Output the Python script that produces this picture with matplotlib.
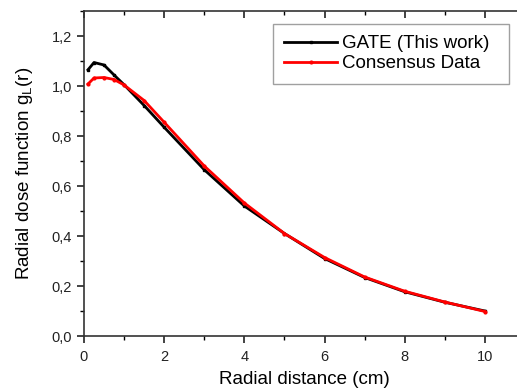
import matplotlib
matplotlib.use("Agg")
import matplotlib.pyplot as plt
from matplotlib.ticker import MultipleLocator, FuncFormatter

# radial distance (cm)
r_gate = [0.1, 0.25, 0.5, 0.75, 1.0, 1.5, 2.0, 3.0, 4.0, 5.0, 6.0, 7.0, 8.0, 9.0, 10.0]
g_gate = [1.065, 1.094, 1.084, 1.044, 1.005, 0.922, 0.835, 0.665, 0.52, 0.41, 0.31,
          0.234, 0.177, 0.135, 0.1]

r_cons = [0.1, 0.25, 0.5, 0.75, 1.0, 1.5, 2.0, 3.0, 4.0, 5.0, 6.0, 7.0, 8.0, 9.0, 10.0]
g_cons = [1.008, 1.032, 1.034, 1.026, 1.004, 0.942, 0.855, 0.68, 0.532, 0.41, 0.314,
          0.236, 0.179, 0.136, 0.098]

plt.rcParams["font.family"] = ["Liberation Sans", "DejaVu Sans"]
plt.rcParams["mathtext.fontset"] = "custom"
plt.rcParams["mathtext.rm"] = "Liberation Sans"
plt.rcParams["mathtext.it"] = "Liberation Sans"

fig = plt.figure(figsize=(5.17, 3.92), dpi=100)
ax = fig.add_axes([84 / 517, 56 / 392, 441 / 517, 325 / 392])

ax.plot(r_gate, g_gate, color="black", lw=2, marker="s", ms=2,
        label="GATE (This work)")
ax.plot(r_cons, g_cons, color="red", lw=2, marker="o", ms=2,
        label="Consensus Data")

ax.set_xlim(0, 11)
ax.set_ylim(0, 1.3)
ax.xaxis.set_major_locator(MultipleLocator(2))
ax.xaxis.set_minor_locator(MultipleLocator(1))
ax.yaxis.set_major_locator(MultipleLocator(0.2))
ax.yaxis.set_minor_locator(MultipleLocator(0.1))
ax.yaxis.set_major_formatter(FuncFormatter(lambda v, p: f"{v:.1f}".replace(".", ",")))

ax.tick_params(axis="both", which="major", direction="out", length=5, width=1.2,
               labelsize=10.5, colors="#222222")
ax.tick_params(axis="both", which="minor", direction="out", length=3, width=1)
ax.tick_params(axis="x", which="both", top=True, pad=5)
for side in ["left", "bottom", "top", "right"]:
    ax.spines[side].set_linewidth(1.2)
    ax.spines[side].set_color("#333333")

# bottom ticks outward, top ticks inward
for t in ax.xaxis.get_major_ticks() + ax.xaxis.get_minor_ticks():
    t.tick1line.set_marker(3)
    t.tick2line.set_marker(3)

ax.set_xlabel("Radial distance (cm)", fontsize=13.5, labelpad=5)
ax.set_ylabel("Radial dose function g$_\\mathrm{L}$(r)", fontsize=13.5, labelpad=12)

leg = ax.legend(loc="upper left", bbox_to_anchor=(0.4286, 0.77, 0.535, 0.19),
                mode="expand", fontsize=13.5, frameon=True, fancybox=False,
                handlelength=2.8, borderpad=0.6, labelspacing=0.15,
                handletextpad=0.3, borderaxespad=0)
leg.get_frame().set_edgecolor("#888888")
leg.get_frame().set_linewidth(1)

fig.savefig("out.png", dpi=100)
